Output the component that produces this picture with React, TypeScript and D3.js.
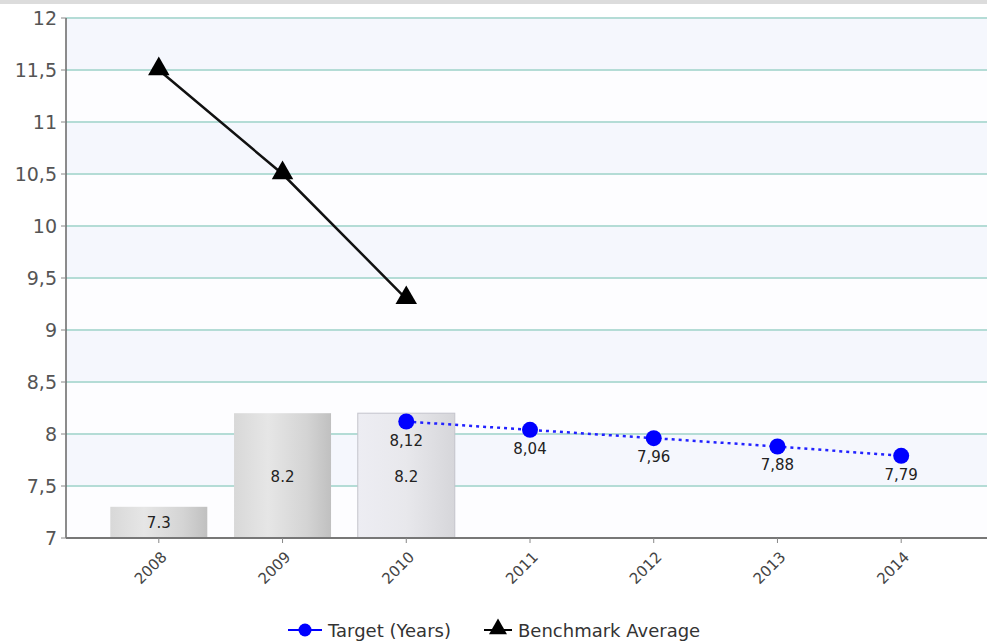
import React from "react";
import * as d3 from "d3";

const years = ["2008", "2009", "2010", "2011", "2012", "2013", "2014"];
const barYears = ["2008", "2009", "2010"];
const barValues = [7.3, 8.2, 8.2];
const barLabels = ["7.3", "8.2", "8.2"];
const targetYears = ["2010", "2011", "2012", "2013", "2014"];
const targetValues = [8.12, 8.04, 7.96, 7.88, 7.79];
const targetLabels = ["8,12", "8,04", "7,96", "7,88", "7,79"];
const benchYears = ["2008", "2009", "2010"];
const benchValues = [11.5, 10.5, 9.3];
const yTicks = [7, 7.5, 8, 8.5, 9, 9.5, 10, 10.5, 11, 11.5, 12];
const yTickLabels = ["7", "7,5", "8", "8,5", "9", "9,5", "10", "10,5", "11", "11,5", "12"];

const W = 987;
const H = 643;
const left = 66;
const top = 18;
const bottom = 538;
const right = 994;

export default function App() {
  const x = d3.scalePoint<string>().domain(years).range([left, right]).padding(0.75);
  const y = d3.scaleLinear().domain([7, 12]).range([bottom, top]);
  const barW = 97;
  const font = "'DejaVu Sans', Verdana, sans-serif";

  const line = d3
    .line<[string, number]>()
    .x((d) => x(d[0]) as number)
    .y((d) => y(d[1]));

  const tri = d3.symbol().type(d3.symbolTriangle).size(200)();
  const triSmall = d3.symbol().type(d3.symbolTriangle).size(140)();

  const bands = [];
  for (let i = 0; i < yTicks.length - 1; i++) {
    bands.push([yTicks[i], yTicks[i + 1], i]);
  }

  return (
    <svg
      width={W}
      height={H}
      style={{ position: "absolute", left: 0, top: 0, background: "#fff" }}
      fontFamily={font}
    >
      <defs>
        <linearGradient id="barG" x1="0" x2="1" y1="0" y2="0">
          <stop offset="0" stopColor="#d8d8d8" />
          <stop offset="0.35" stopColor="#e6e6e6" />
          <stop offset="0.75" stopColor="#d4d4d4" />
          <stop offset="1" stopColor="#c0c0c0" />
        </linearGradient>
        <linearGradient id="barG2" x1="0" x2="1" y1="0" y2="0">
          <stop offset="0" stopColor="#ededf3" />
          <stop offset="0.5" stopColor="#e8e8ec" />
          <stop offset="1" stopColor="#d6d6da" />
        </linearGradient>
      </defs>
      <rect x={0} y={0} width={W} height={4} fill="#dcdcdc" />
      {bands.map(([a, b, i]) => (
        <rect
          key={"band" + i}
          x={left}
          y={y(b as number)}
          width={W - left}
          height={y(a as number) - y(b as number)}
          fill={(i as number) % 2 === 1 ? "#f5f7fd" : "#fdfdff"}
        />
      ))}
      {yTicks.map((t) => (
        <line
          key={"g" + t}
          x1={left}
          x2={W}
          y1={y(t)}
          y2={y(t)}
          stroke="#b4dcd6"
          strokeWidth={2}
        />
      ))}
      {barYears.map((yr, i) => (
        <rect
          key={"bar" + yr}
          x={(x(yr) as number) - barW / 2}
          y={y(barValues[i])}
          width={barW}
          height={bottom - y(barValues[i])}
          fill={i === 2 ? "url(#barG2)" : "url(#barG)"}
          stroke={i === 2 ? "#c4c4cc" : "none"}
          strokeWidth={1}
        />
      ))}
      {barYears.map((yr, i) => (
        <text
          key={"bl" + yr}
          x={x(yr) as number}
          y={(y(barValues[i]) + bottom) / 2 + 6}
          textAnchor="middle"
          fontSize={15}
          fill="#222"
        >
          {barLabels[i]}
        </text>
      ))}
      <line x1={left} x2={left} y1={top} y2={bottom} stroke="#666" strokeWidth={1.5} />
      <line x1={left} x2={W} y1={bottom} y2={bottom} stroke="#777" strokeWidth={2} />
      {yTicks.map((t, i) => (
        <g key={"yt" + t}>
          <line x1={left - 5} x2={left} y1={y(t)} y2={y(t)} stroke="#888" />
          <text
            x={left - 9}
            y={y(t) + 7}
            textAnchor="end"
            fontSize={19}
            fill="#555"
          >
            {yTickLabels[i]}
          </text>
        </g>
      ))}
      {years.map((yr) => (
        <g key={"xt" + yr}>
          <line
            x1={x(yr) as number}
            x2={x(yr) as number}
            y1={bottom}
            y2={bottom + 5}
            stroke="#888"
          />
          <text
            transform={`translate(${(x(yr) as number) + 9},${bottom + 20}) rotate(-45)`}
            textAnchor="end"
            fontSize={15}
            fill="#444"
          >
            {yr}
          </text>
        </g>
      ))}
      <path
        d={line(benchYears.map((yr, i) => [yr, benchValues[i]] as [string, number])) || ""}
        fill="none"
        stroke="#111"
        strokeWidth={2.5}
      />
      {benchYears.map((yr, i) => (
        <path
          key={"tri" + yr}
          d={tri || ""}
          transform={`translate(${x(yr)},${y(benchValues[i]) - 1})`}
          fill="#000"
        />
      ))}
      <path
        d={line(targetYears.map((yr, i) => [yr, targetValues[i]] as [string, number])) || ""}
        fill="none"
        stroke="#2222ff"
        strokeWidth={2.5}
        strokeDasharray="3,4"
      />
      {targetYears.map((yr, i) => (
        <circle
          key={"c" + yr}
          cx={x(yr) as number}
          cy={y(targetValues[i])}
          r={8}
          fill="#0000ff"
        />
      ))}
      {targetYears.map((yr, i) => (
        <text
          key={"tl" + yr}
          x={x(yr) as number}
          y={y(targetValues[i]) + 24}
          textAnchor="middle"
          fontSize={15}
          fill="#222"
        >
          {targetLabels[i]}
        </text>
      ))}
      <g>
        <line x1={288} x2={322} y1={630} y2={630} stroke="#0000ff" strokeWidth={2} />
        <circle cx={305} cy={630} r={6.5} fill="#0000ff" />
        <text x={328} y={637} fontSize={18} fill="#333">
          Target (Years)
        </text>
        <line x1={484} x2={512} y1={630} y2={630} stroke="#000" strokeWidth={2} />
        <path d={triSmall || ""} transform="translate(498,629)" fill="#000" />
        <text x={518} y={637} fontSize={18} fill="#333">
          Benchmark Average
        </text>
      </g>
    </svg>
  );
}
